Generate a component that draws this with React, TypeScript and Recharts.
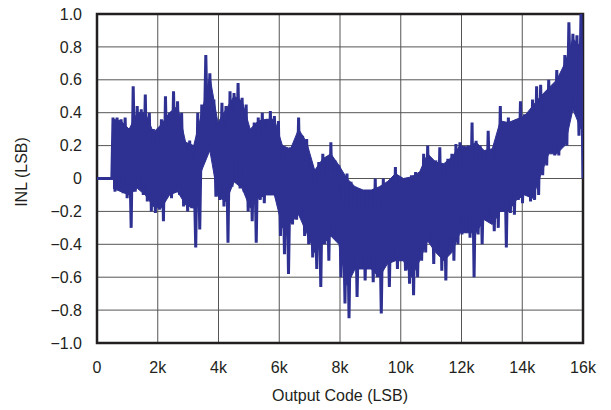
import React from 'react';
import { ComposedChart, Line, Area, XAxis, YAxis, CartesianGrid, ReferenceArea } from 'recharts';

// Output codes (LSB) of the flat lead-in before the measured range
const leadCodes = [0, 500];
const leadValues = [0, 0];

// Measured INL samples: first code and code spacing, then values (LSB)
const inlStartCode = 540;
const inlCodeStep = 68;
const inlValues = [
  0.37, -0.08, 0.37, -0.05, 0.36, -0.09, 0.37, -0.12, 0.30, -0.30,
  0.56, -0.08, 0.44, -0.05, 0.42, -0.10, 0.51, -0.14, 0.40, -0.20,
  0.30, -0.21, 0.28, -0.19, 0.36, -0.26, 0.50, -0.10, 0.40, -0.12,
  0.53, -0.05, 0.47, -0.10, 0.40, -0.17, 0.22, -0.20, 0.23, -0.18,
  0.15, -0.42, 0.40, -0.31, 0.45, 0.10, 0.75, 0.17, 0.64, 0.18,
  0.48, -0.11, 0.34, -0.13, 0.46, -0.17, 0.44, -0.39, 0.53, -0.05,
  0.52, 0.02, 0.58, -0.06, 0.49, -0.08, 0.45, -0.20, 0.30, -0.26,
  0.34, -0.39, 0.37, -0.13, 0.40, -0.15, 0.36, -0.10, 0.41, -0.05,
  0.38, -0.12, 0.35, -0.35, 0.20, -0.46, 0.18, -0.58, 0.19, -0.28,
  0.20, -0.25, 0.37, -0.22, 0.26, -0.35, 0.24, -0.40, 0.07, -0.48,
  0.05, -0.55, 0.10, -0.66, 0.15, -0.40, 0.12, -0.50, 0.22, -0.35,
  0.11, -0.38, 0.08, -0.60, -0.05, -0.76, 0.03, -0.85, -0.02, -0.55,
  -0.05, -0.72, -0.08, -0.55, -0.07, -0.62, -0.07, -0.55, -0.07, -0.63,
  0.00, -0.60, -0.10, -0.82, 0.00, -0.52, -0.02, -0.66, -0.03, -0.50,
  0.07, -0.55, -0.02, -0.50, 0.00, -0.56, -0.01, -0.64, 0.02, -0.71,
  0.04, -0.60, 0.04, -0.50, 0.15, -0.45, 0.20, -0.35, 0.10, -0.52,
  0.11, -0.45, 0.19, -0.56, 0.09, -0.62, 0.12, -0.42, 0.15, -0.50,
  0.21, -0.40, 0.22, -0.34, 0.19, -0.33, 0.20, -0.36, 0.34, -0.60,
  0.23, -0.34, 0.20, -0.40, 0.17, -0.25, 0.29, -0.22, 0.18, -0.32,
  0.18, -0.30, 0.44, -0.20, 0.30, -0.42, 0.37, -0.21, 0.34, -0.22,
  0.36, -0.13, 0.47, -0.15, 0.39, -0.09, 0.33, -0.14, 0.48, -0.13,
  0.56, -0.10, 0.57, 0.02, 0.42, 0.08, 0.60, 0.17, 0.55, 0.14,
  0.66, 0.14, 0.62, 0.20, 0.75, 0.20, 0.95, 0.43, 0.88, 0.43,
  0.87, 0.26, 1.00, 0.00,
];

// Dense core band of the INL trace (where the samples overlap solidly)
const coreStartCode = 540;
const coreCodeStep = 272;
const coreUpper = [
  0.36, 0.35, 0.30, 0.40, 0.40, 0.28, 0.33, 0.40, 0.44, 0.22,
  0.20, 0.40, 0.62, 0.34, 0.42, 0.50, 0.47, 0.30, 0.35, 0.36,
  0.36, 0.20, 0.18, 0.30, 0.22, 0.05, 0.12, 0.15, 0.08, 0.00,
  -0.05, -0.07, -0.07, -0.05, -0.02, 0.03, 0.00, 0.01, 0.04, 0.15,
  0.10, 0.09, 0.13, 0.20, 0.19, 0.22, 0.17, 0.18, 0.35, 0.34,
  0.36, 0.38, 0.44, 0.50, 0.55, 0.60, 0.70, 0.85, 0.80,
];
const coreLower = [
  -0.06, -0.08, -0.10, -0.06, -0.10, -0.17, -0.18, -0.10, -0.08, -0.16,
  -0.18, 0.05, 0.17, -0.11, -0.14, -0.02, -0.06, -0.18, -0.12, -0.10,
  -0.10, -0.30, -0.27, -0.22, -0.33, -0.45, -0.40, -0.35, -0.40, -0.65,
  -0.55, -0.55, -0.55, -0.60, -0.52, -0.50, -0.50, -0.60, -0.50, -0.38,
  -0.45, -0.50, -0.45, -0.33, -0.33, -0.33, -0.25, -0.28, -0.20, -0.20,
  -0.13, -0.10, -0.12, 0.02, 0.15, 0.15, 0.20, 0.42, 0.30,
];

const xTicks = [0, 2048, 4096, 6144, 8192, 10240, 12288, 14336, 16384];
const xTickLabels = ['0', '2k', '4k', '6k', '8k', '10k', '12k', '14k', '16k'];
const yTicks = [-1.0, -0.8, -0.6, -0.4, -0.2, 0, 0.2, 0.4, 0.6, 0.8, 1.0];
const yTickLabels = ['\u22121.0', '\u22120.8', '\u22120.6', '\u22120.4', '\u22120.2', '0', '0.2', '0.4', '0.6', '0.8', '1.0'];

const xTitle = 'Output Code (LSB)';
const yTitle = 'INL (LSB)';

const data = [
  ...leadCodes.map((c, i) => ({ code: c, inl: leadValues[i] })),
  ...inlValues.map((v, i) => ({ code: inlStartCode + i * inlCodeStep, inl: v })),
];

const coreData = coreUpper.map((u, i) => ({
  code: coreStartCode + i * coreCodeStep,
  band: [coreLower[i], u],
}));

const FONT = '"Liberation Sans", Arial, Helvetica, sans-serif';
const TEXT = '#231f20';
const BLUE = '#2e3192';

const renderYTitle = () => (
  <text
    x={21}
    y={172}
    transform="rotate(-90, 21, 172)"
    textAnchor="middle"
    dominantBaseline="central"
    fontFamily={FONT}
    fontSize={16}
    fill={TEXT}
  >
    {yTitle}
  </text>
);

const renderXTitle = () => (
  <text x={340} y={401} textAnchor="middle" fontFamily={FONT} fontSize={16} fill={TEXT}>
    {xTitle}
  </text>
);

export default function App() {
  return (
    <div style={{ position: 'absolute', left: 0, top: 0, width: 611, height: 410, background: '#fff' }}>
      <ComposedChart
        width={611}
        height={410}
        data={data}
        margin={{ top: 14, right: 28, bottom: 0, left: 0 }}
      >
        <CartesianGrid stroke="#555" strokeWidth={1} vertical horizontal />
        <XAxis
          dataKey="code"
          type="number"
          domain={[0, 16384]}
          ticks={xTicks}
          tickFormatter={(v: number) => xTickLabels[xTicks.indexOf(v)] ?? ''}
          axisLine={false}
          tickLine={false}
          tickSize={0}
          tickMargin={19}
          height={67}
          tick={{ fontFamily: FONT, fontSize: 16, fill: TEXT }}
          interval={0}
          allowDataOverflow
          label={renderXTitle}
        />
        <YAxis
          type="number"
          domain={[-1, 1]}
          ticks={yTicks}
          tickFormatter={(v: number) => {
            const idx = yTicks.findIndex((t) => Math.abs(t - v) < 1e-9);
            return idx >= 0 ? yTickLabels[idx] : '';
          }}
          axisLine={false}
          tickLine={false}
          tickSize={0}
          tickMargin={15}
          width={97}
          tick={{ fontFamily: FONT, fontSize: 16, fill: TEXT }}
          interval={0}
          allowDataOverflow
          label={renderYTitle}
        />
        <Area
          data={coreData}
          type="linear"
          dataKey="band"
          stroke={BLUE}
          strokeWidth={1}
          fill={BLUE}
          fillOpacity={1}
          dot={false}
          activeDot={false}
          isAnimationActive={false}
        />
        <Line
          type="linear"
          dataKey="inl"
          stroke={BLUE}
          strokeWidth={3}
          strokeLinejoin="miter"
          dot={false}
          isAnimationActive={false}
        />
        <ReferenceArea
          x1={0}
          x2={16384}
          y1={-1}
          y2={1}
          fill="none"
          fillOpacity={0}
          stroke={TEXT}
          strokeWidth={2.5}
        />
      </ComposedChart>
    </div>
  );
}
